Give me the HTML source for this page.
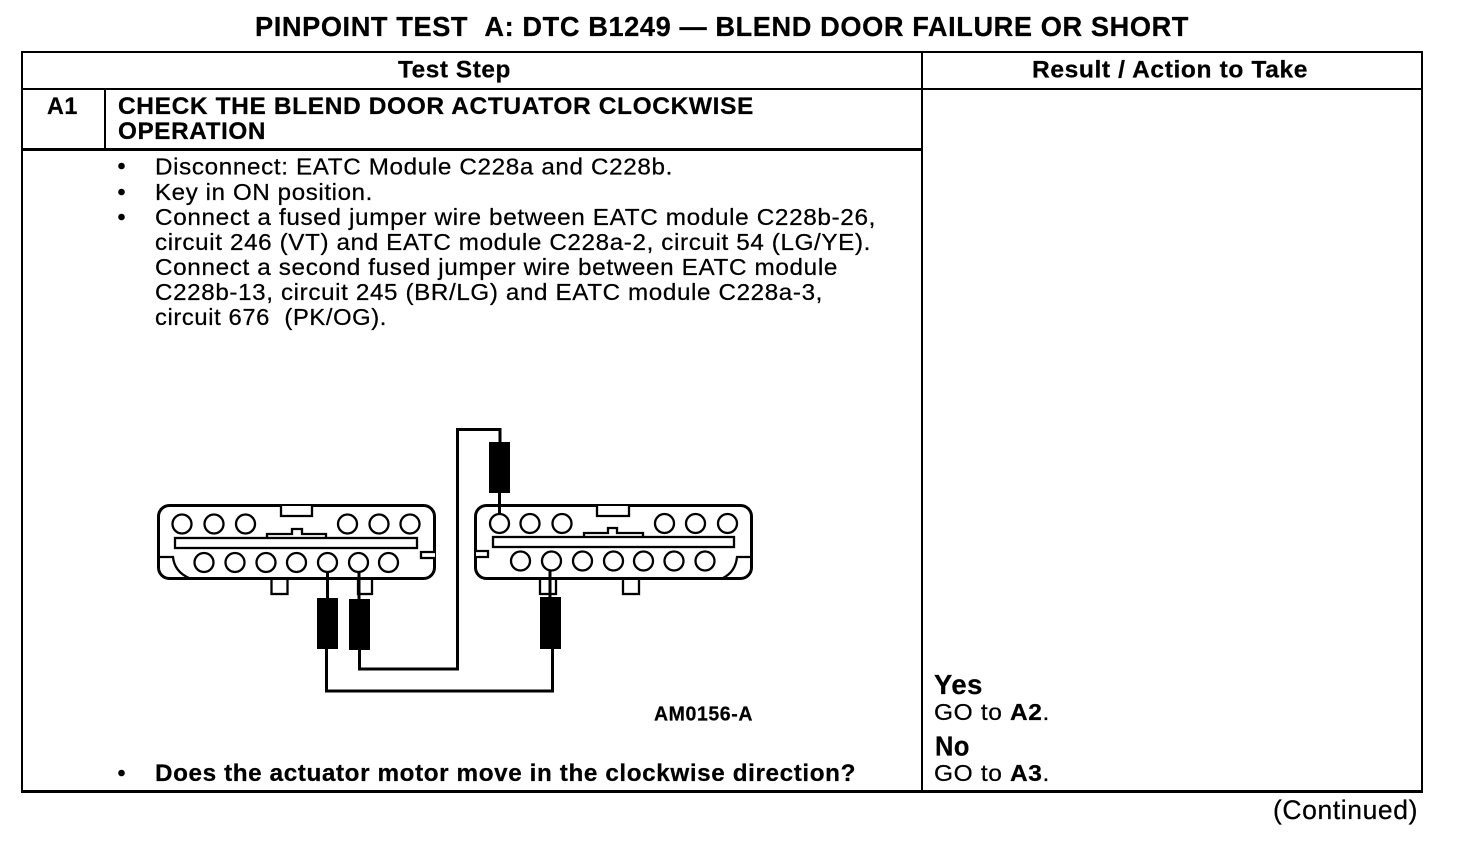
<!DOCTYPE html>
<html>
<head>
<meta charset="utf-8">
<style>
html,body{margin:0;padding:0;background:#fff;}
svg{display:block;}
text{font-family:"Liberation Sans",sans-serif;fill:#000;stroke:#000;stroke-width:.25px;white-space:pre;letter-spacing:.6px;}
.b{font-weight:bold;}
.body{font-size:23px;}
.h{font-size:24px;font-weight:bold;}
.w{fill:none;stroke:#000;stroke-width:3;}
.c{fill:#fff;stroke:#000;stroke-width:2.3;}
.s{fill:#fff;stroke:#000;stroke-width:2.3;}
</style>
</head>
<body>
<svg width="1472" height="852" viewBox="0 0 1472 852" xmlns="http://www.w3.org/2000/svg">
<rect width="1472" height="852" fill="#fff"/>

<text x="255" y="36" class="b" font-size="27.5" textLength="934" lengthAdjust="spacingAndGlyphs">PINPOINT TEST&#160;&#160;A: DTC B1249 — BLEND DOOR FAILURE OR SHORT</text>

<g shape-rendering="crispEdges" fill="#000">
<rect x="21" y="51" width="1402" height="2"/>
<rect x="21" y="790" width="1402" height="3"/>
<rect x="21" y="51" width="2" height="742"/>
<rect x="1421" y="51" width="2" height="742"/>
<rect x="921" y="51" width="2" height="742"/>
<rect x="21" y="88" width="1402" height="2"/>
<rect x="21" y="148" width="902" height="3"/>
<rect x="104" y="88" width="2" height="61"/>
</g>

<text x="398" y="77.500" class="h" textLength="113" lengthAdjust="spacingAndGlyphs">Test Step</text>
<text x="1032" y="77.500" class="h" textLength="276" lengthAdjust="spacingAndGlyphs">Result / Action to Take</text>
<text x="47" y="114" class="h" textLength="31" lengthAdjust="spacingAndGlyphs">A1</text>
<text x="118" y="114" class="h" textLength="636" lengthAdjust="spacingAndGlyphs">CHECK THE BLEND DOOR ACTUATOR CLOCKWISE</text>
<text x="118" y="139" class="h" textLength="148" lengthAdjust="spacingAndGlyphs">OPERATION</text>

<g class="body">
<circle cx="121.500" cy="166" r="3.300"/>
<circle cx="121.500" cy="192" r="3.300"/>
<circle cx="121.500" cy="217" r="3.300"/>
<circle cx="121.500" cy="773" r="3.300"/>
<text x="155" y="174.500" textLength="518" lengthAdjust="spacingAndGlyphs">Disconnect: EATC Module C228a and C228b.</text>
<text x="155" y="200" textLength="218" lengthAdjust="spacingAndGlyphs">Key in ON position.</text>
<text x="155" y="225" textLength="721" lengthAdjust="spacingAndGlyphs">Connect a fused jumper wire between EATC module C228b-26,</text>
<text x="155" y="250" textLength="716" lengthAdjust="spacingAndGlyphs">circuit 246 (VT) and EATC module C228a-2, circuit 54 (LG/YE).</text>
<text x="155" y="275" textLength="683" lengthAdjust="spacingAndGlyphs">Connect a second fused jumper wire between EATC module</text>
<text x="155" y="300" textLength="668" lengthAdjust="spacingAndGlyphs">C228b-13, circuit 245 (BR/LG) and EATC module C228a-3,</text>
<text x="155" y="325" textLength="232" lengthAdjust="spacingAndGlyphs">circuit 676&#160;&#160;(PK/OG).</text>
<text x="155" y="781" class="b" font-size="24" textLength="701" lengthAdjust="spacingAndGlyphs">Does the actuator motor move in the clockwise direction?</text>
<text x="934" y="720" textLength="116" lengthAdjust="spacingAndGlyphs">GO to <tspan class="b">A2</tspan>.</text>
<text x="934" y="781" textLength="116" lengthAdjust="spacingAndGlyphs">GO to <tspan class="b">A3</tspan>.</text>
</g>
<text x="934" y="694" class="b" font-size="27.500" textLength="49" lengthAdjust="spacingAndGlyphs">Yes</text>
<text x="935" y="755.500" class="b" font-size="27.500" textLength="35" lengthAdjust="spacingAndGlyphs">No</text>
<text x="1273" y="819" font-size="27" textLength="145" lengthAdjust="spacingAndGlyphs">(Continued)</text>
<text x="654" y="720.500" class="b" font-size="20" textLength="99" lengthAdjust="spacingAndGlyphs">AM0156-A</text>

<!-- Left connector -->
<g>
<rect x="271.500" y="577" width="16" height="17" class="s"/>
<rect x="358" y="577" width="14" height="17" class="s"/>
<rect x="158.500" y="505.500" width="276" height="73" rx="11" ry="11" fill="#fff" stroke="#000" stroke-width="3"/>
<path d="M281 506V516H312V506" class="s"/>
<path d="M267 537V534H292V529H302V534H326V537" class="s"/>
<rect x="175" y="538" width="242" height="10" class="s"/>
<path d="M435 552H421V558H435" class="s"/>
<path d="M159 557H173C174 567 180 574 189 578" fill="none" stroke="#000" stroke-width="2.300"/>
<g class="c">
<circle cx="182" cy="524" r="9.500"/><circle cx="214" cy="524" r="9.500"/><circle cx="245.500" cy="524" r="9.500"/>
<circle cx="347.500" cy="524" r="9.500"/><circle cx="379" cy="524" r="9.500"/><circle cx="410" cy="524" r="9.500"/>
<circle cx="204" cy="562.500" r="9.500"/><circle cx="235" cy="562.500" r="9.500"/><circle cx="266" cy="562.500" r="9.500"/>
<circle cx="296.500" cy="562.500" r="9.500"/><circle cx="327.500" cy="562.500" r="9.500"/><circle cx="358.500" cy="562.500" r="9.500"/>
<circle cx="388.500" cy="562.500" r="9.500"/>
</g>
</g>

<!-- Right connector -->
<g>
<rect x="540" y="577" width="16" height="17" class="s"/>
<rect x="623" y="577" width="16" height="17" class="s"/>
<rect x="475.500" y="505.500" width="276" height="73" rx="11" ry="11" fill="#fff" stroke="#000" stroke-width="3"/>
<path d="M597 506V516H629V506" class="s"/>
<path d="M584 537V533H608V528H617V533H643V537" class="s"/>
<rect x="493" y="537" width="241" height="10" class="s"/>
<path d="M476 551H488V557H476" class="s"/>
<path d="M751 557H737C736 567 731 574 723 578" fill="none" stroke="#000" stroke-width="2.300"/>
<g class="c">
<circle cx="499.500" cy="523.500" r="9.500"/><circle cx="530" cy="523.500" r="9.500"/><circle cx="562" cy="523.500" r="9.500"/>
<circle cx="664.500" cy="523.500" r="9.500"/><circle cx="695.500" cy="523.500" r="9.500"/><circle cx="727.500" cy="523.500" r="9.500"/>
<circle cx="520.500" cy="561" r="9.500"/><circle cx="551.500" cy="561" r="9.500"/><circle cx="582.500" cy="561" r="9.500"/>
<circle cx="613.500" cy="561" r="9.500"/><circle cx="643.500" cy="561" r="9.500"/><circle cx="674" cy="561" r="9.500"/>
<circle cx="705" cy="561" r="9.500"/>
</g>
</g>

<!-- Wires -->
<path class="w" d="M359.500 650V669H457.500V429.500H500V442"/>
<path class="w" d="M326.500 648V691H552.500V648"/>
<path class="w" d="M499.500 492V514"/>
<path class="w" d="M327.500 572V598"/>
<path class="w" d="M359 572V600"/>
<path class="w" d="M550 570V597"/>

<!-- Jumper fuses -->
<g shape-rendering="crispEdges" fill="#000">
<rect x="489" y="442" width="21" height="51"/>
<rect x="317" y="598" width="21" height="51"/>
<rect x="349" y="599" width="21" height="51"/>
<rect x="540" y="597" width="21" height="52"/>
</g>
</svg>
</body>
</html>
